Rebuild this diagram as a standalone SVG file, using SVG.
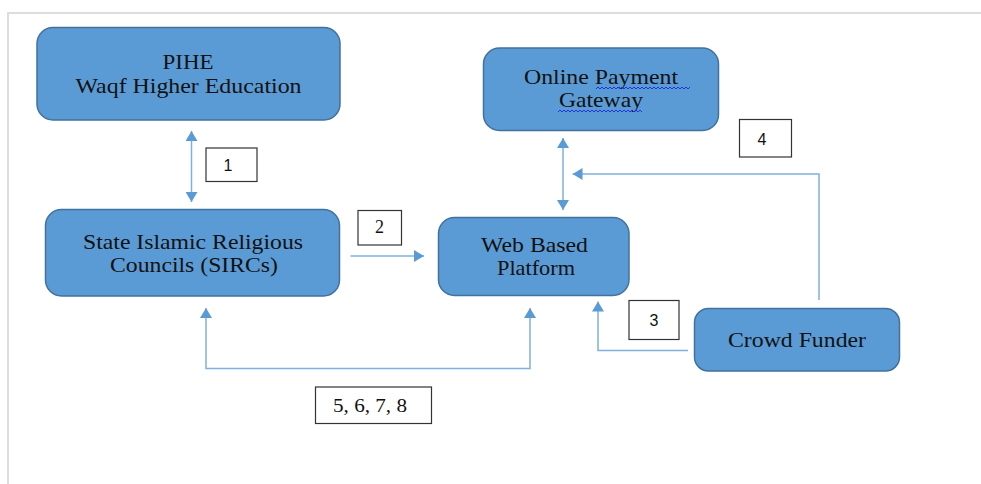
<svg xmlns="http://www.w3.org/2000/svg" width="981" height="484" viewBox="0 0 981 484">
<defs>
<marker id="ah" viewBox="0 0 10 12" refX="10" refY="6" markerWidth="10" markerHeight="12" markerUnits="userSpaceOnUse" orient="auto-start-reverse">
<path d="M0,0 L10,6 L0,12 z" fill="#5B9BD5"/>
</marker>
<style>
.node{fill:#5B9BD5;stroke:#41719C;stroke-width:1.5}
.nt{font-family:"Liberation Serif","Times New Roman",serif;font-size:21px;fill:#111;text-anchor:middle}
.conn{fill:none;stroke:#7FB0DE;stroke-width:1.5}
.lbl{fill:#fff;stroke:#333;stroke-width:1.2}
.ls{font-family:"Liberation Sans",Arial,sans-serif;font-size:16px;fill:#111;text-anchor:middle}
.lf{font-family:"Liberation Serif","Times New Roman",serif;font-size:18px;fill:#111;text-anchor:middle}
.wavy{fill:none;stroke:#2233DD;stroke-width:1}
</style>
</defs>
<rect width="981" height="484" fill="#fff"/>
<path d="M8,484 L8,13 L981,13" fill="none" stroke="#DDDDDD" stroke-width="2"/>

<g id="connectors">
<path class="conn" d="M191.5,131 L191.5,202" marker-start="url(#ah)" marker-end="url(#ah)"/>
<path class="conn" d="M350.5,256 L424,256" marker-end="url(#ah)"/>
<path class="conn" d="M563,138 L563,210" marker-start="url(#ah)" marker-end="url(#ah)"/>
<path class="conn" d="M819,300 L819,174 L572.5,174" marker-end="url(#ah)"/>
<path class="conn" d="M688,350.5 L598,350.5 L598,301.5" marker-end="url(#ah)"/>
<path class="conn" d="M206,308 L206,368.5 L530,368.5 L530,308" marker-start="url(#ah)" marker-end="url(#ah)"/>
</g>

<g id="pihe">
<rect class="node" x="37" y="27.5" width="303" height="92.5" rx="16"/>
<text class="nt" x="188" y="69" textLength="51" lengthAdjust="spacingAndGlyphs">PIHE</text>
<text class="nt" x="188.5" y="93" textLength="226" lengthAdjust="spacingAndGlyphs">Waqf Higher Education</text>
</g>

<g id="gateway">
<rect class="node" x="483.5" y="48" width="235" height="82.5" rx="16"/>
<text class="nt" x="601" y="84" textLength="154" lengthAdjust="spacingAndGlyphs">Online Payment</text>
<text class="nt" x="601" y="107" textLength="84" lengthAdjust="spacingAndGlyphs">Gateway</text>
<path class="wavy" d="M596,89 l2,-2 l2,2 l2,-2 l2,2 l2,-2 l2,2 l2,-2 l2,2 l2,-2 l2,2 l2,-2 l2,2 l2,-2 l2,2 l2,-2 l2,2 l2,-2 l2,2 l2,-2 l2,2 l2,-2 l2,2 l2,-2 l2,2 l2,-2 l2,2 l2,-2 l2,2 l2,-2 l2,2 l2,-2 l2,2 l2,-2 l2,2 l2,-2 l2,2 l2,-2 l2,2 l2,-2 l2,2 l2,-2 l2,2 l2,-2 l2,2 l2,-2 l2,2 l2,-2"/>
<path class="wavy" d="M558,112 l2,-2 l2,2 l2,-2 l2,2 l2,-2 l2,2 l2,-2 l2,2 l2,-2 l2,2 l2,-2 l2,2 l2,-2 l2,2 l2,-2 l2,2 l2,-2 l2,2 l2,-2 l2,2 l2,-2 l2,2 l2,-2 l2,2 l2,-2 l2,2 l2,-2 l2,2 l2,-2 l2,2 l2,-2 l2,2 l2,-2 l2,2 l2,-2 l2,2 l2,-2 l2,2 l2,-2 l2,2 l2,-2 l2,2"/>
</g>

<g id="sircs">
<rect class="node" x="45.5" y="209.5" width="294" height="86.5" rx="16"/>
<text class="nt" x="193" y="249" textLength="220" lengthAdjust="spacingAndGlyphs">State Islamic Religious</text>
<text class="nt" x="194" y="272" textLength="168" lengthAdjust="spacingAndGlyphs">Councils (SIRCs)</text>
</g>

<g id="web">
<rect class="node" x="438.5" y="217.5" width="190.5" height="78" rx="16"/>
<text class="nt" x="534.5" y="252" textLength="107" lengthAdjust="spacingAndGlyphs">Web Based</text>
<text class="nt" x="536" y="275" textLength="78" lengthAdjust="spacingAndGlyphs">Platform</text>
</g>

<g id="crowd">
<rect class="node" x="694.5" y="308.5" width="205" height="62.5" rx="14"/>
<text class="nt" x="797" y="347" textLength="138" lengthAdjust="spacingAndGlyphs">Crowd Funder</text>
</g>

<g id="label1">
<rect class="lbl" x="206" y="148" width="51" height="33.5"/>
<text class="ls" x="228" y="171">1</text>
</g>
<g id="label2">
<rect class="lbl" x="358" y="210.5" width="43.5" height="34.5"/>
<text class="lf" x="379.5" y="233">2</text>
</g>
<g id="label3">
<rect class="lbl" x="629" y="300.5" width="50" height="39"/>
<text class="ls" x="654" y="326">3</text>
</g>
<g id="label4">
<rect class="lbl" x="739.5" y="119.5" width="52" height="37.5"/>
<text class="ls" x="762" y="145">4</text>
</g>
<g id="label5678">
<rect class="lbl" x="315.5" y="387" width="116" height="36.5"/>
<text class="lf" x="370" y="412" textLength="74" lengthAdjust="spacingAndGlyphs">5, 6, 7, 8</text>
</g>
</svg>
